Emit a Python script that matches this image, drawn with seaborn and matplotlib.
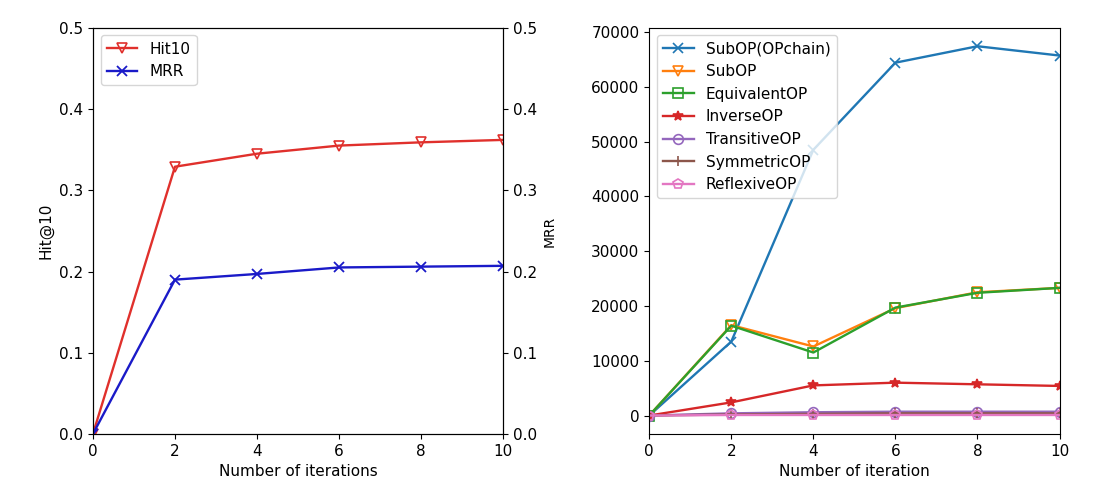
import matplotlib
matplotlib.use("Agg")
import matplotlib.pyplot as plt
import numpy as np
import pandas as pd
import seaborn as sns

# valeurs
iters = [0, 2, 4, 6, 8, 10]
hit10 = [0.0, 0.329, 0.345, 0.355, 0.359, 0.362]
mrr = [0.0, 0.190, 0.197, 0.205, 0.206, 0.207]

op_names = ["SubOP(OPchain)", "SubOP", "EquivalentOP", "InverseOP",
            "TransitiveOP", "SymmetricOP", "ReflexiveOP"]
subop_chain = [0, 13500, 48500, 64400, 67400, 65700]
subop = [0, 16500, 12600, 19600, 22500, 23300]
equivalent = [0, 16400, 11500, 19700, 22400, 23300]
inverse = [0, 2400, 5500, 6000, 5700, 5400]
transitive = [0, 400, 600, 700, 700, 700]
symmetric = [0, 200, 300, 400, 400, 400]
reflexive = [0, 100, 100, 100, 100, 100]
op_values = [subop_chain, subop, equivalent, inverse, transitive, symmetric, reflexive]
op_markers = ["x", "v", "s", "*", "o", "+", "p"]
op_colors = sns.color_palette("tab10", 7)

plt.rcParams["font.family"] = "DejaVu Sans"
plt.rcParams["font.size"] = 11

fig = plt.figure(figsize=(11.06, 4.96), dpi=100)
ax1 = fig.add_axes([0.084, 0.125, 0.371, 0.819])
ax3 = fig.add_axes([0.587, 0.125, 0.371, 0.819])

# --- gauche: Hit@10 et MRR
red = "#e0302c"
blue = "#1a1ac8"
sns.lineplot(x=iters, y=hit10, ax=ax1, color=red, marker="v", markersize=7,
             markerfacecolor="none", markeredgecolor=red, markeredgewidth=1.2,
             linewidth=1.7, label="Hit10", legend=False)
ax2 = ax1.twinx()
sns.lineplot(x=iters, y=mrr, ax=ax2, color=blue, marker="x", markersize=7,
             markeredgecolor=blue, markeredgewidth=1.3,
             linewidth=1.7, label="MRR", legend=False)
ax1.set_xlim(0, 10)
ax1.set_ylim(0, 0.5)
ax2.set_ylim(0, 0.5)
ax1.set_xticks(iters)
ax1.set_yticks(np.arange(0, 0.51, 0.1))
ax2.set_yticks(np.arange(0, 0.51, 0.1))
ax1.set_xlabel("Number of iterations")
ax1.set_ylabel("Hit@10")
ax2.set_ylabel("MRR", fontsize=10)
h1, l1 = ax1.get_legend_handles_labels()
h2, l2 = ax2.get_legend_handles_labels()
ax1.legend(h1 + h2, l1 + l2, loc="upper left")

# --- droite: nombre d'OP
for name, vals, mk, col in zip(op_names, op_values, op_markers, op_colors):
    face = col if mk in ("x", "*", "+") else "none"
    sns.lineplot(x=iters, y=vals, ax=ax3, color=col, marker=mk, markersize=7,
                 markerfacecolor=face, markeredgecolor=col, markeredgewidth=1.2,
                 linewidth=1.7, label=name)
ax3.set_xlim(0, 10)
ax3.set_xticks(iters)
ax3.set_yticks(np.arange(0, 70001, 10000))
ax3.set_xlabel("Number of iteration")
ax3.set_ylabel("")
ax3.legend(loc="upper left")

fig.savefig("out.png", dpi=100)
